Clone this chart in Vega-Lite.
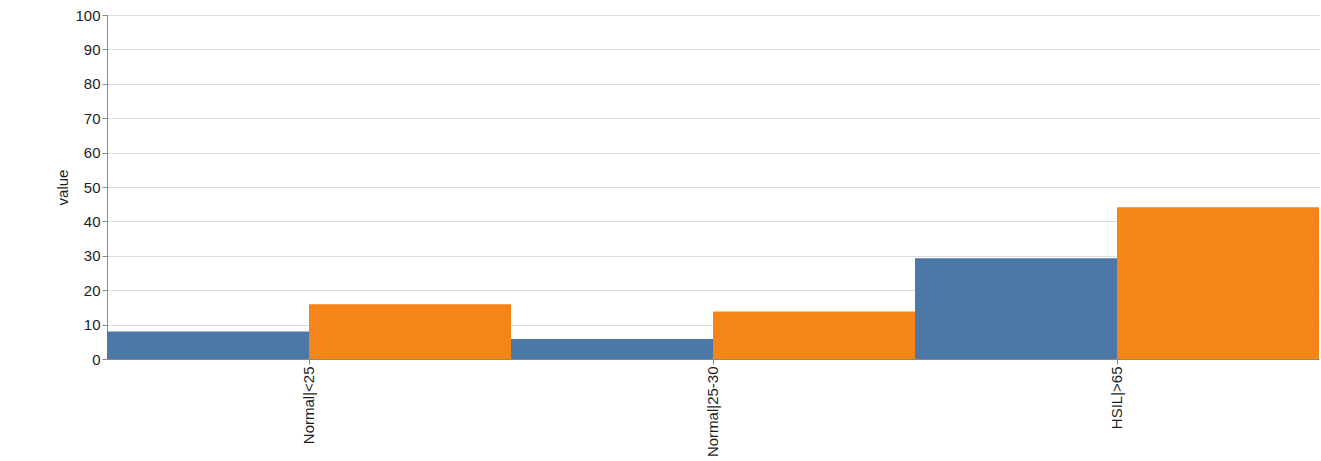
{
  "$schema": "https://vega.github.io/schema/vega-lite/v6.json",
  "width": 1212,
  "height": 344,
  "autosize": {"type": "none"},
  "padding": {"left": 107, "top": 15, "right": 2, "bottom": 102},
  "background": "white",
  "config": {
    "view": {"stroke": null},
    "font": "Liberation Sans",
    "axis": {"labelFont": "Liberation Sans", "titleFont": "Liberation Sans", "labelColor": "#1e1e1e", "titleColor": "#1e1e1e", "labelFontSize": 15, "titleFontSize": 15, "titleFontWeight": "normal"}
  },
  "data": {
    "values": [
      {"group": "Normal", "cat": "Normal|<25", "hpv1618": 8.0, "hrExcl": 15.9, "hr": 23.9},
      {"group": "Normal", "cat": "Normal|25-30", "hpv1618": 5.8, "hrExcl": 13.8, "hr": 18.6},
      {"group": "HSIL", "cat": "HSIL|>65", "hpv1618": 29.3, "hrExcl": 44.1, "hr": 73.5}
    ]
  },
  "layer": [
    {
      "transform": [{"fold": ["hpv1618", "hrExcl"], "as": ["series", "value"]}],
      "mark": {"type": "bar"},
      "encoding": {
        "x": {
          "field": "cat", "type": "nominal", "sort": null,
          "scale": {"paddingInner": 0, "paddingOuter": 0}
        },
        "xOffset": {"field": "series"},
        "y": {
          "field": "value", "type": "quantitative",
          "scale": {"domain": [0, 100], "nice": false}
        },
        "color": {
          "field": "series", "type": "nominal"
        }
      }
    }
  ]
}
